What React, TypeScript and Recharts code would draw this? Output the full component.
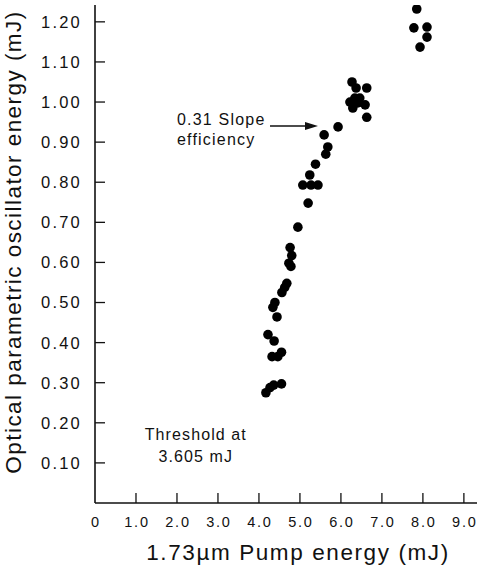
import React from "react";
import { ScatterChart, Scatter, XAxis, YAxis, ReferenceLine, ReferenceDot } from "recharts";

// pump energy (mJ) and OPO output energy (mJ)
const pumpEnergy = [
  4.17, 4.27, 4.36, 4.55, 4.32, 4.46, 4.55, 4.37, 4.22, 4.44,
  4.34, 4.39, 4.56, 4.63, 4.68, 4.78, 4.73, 4.8, 4.76, 4.95,
  5.2, 5.07, 5.27, 5.44, 5.24, 5.38, 5.63, 5.68, 5.59, 5.93,
  6.63, 6.29, 6.22, 6.34, 6.46, 6.41, 6.59, 6.37, 6.63, 6.27,
  7.78, 8.1, 8.1, 7.93, 7.85,
];
const opoEnergy = [
  0.275, 0.288, 0.294, 0.297, 0.365, 0.365, 0.376, 0.404, 0.42, 0.464,
  0.488, 0.5, 0.525, 0.538, 0.548, 0.59, 0.598, 0.617, 0.637, 0.688,
  0.748, 0.793, 0.793, 0.793, 0.818, 0.845, 0.87, 0.888, 0.918, 0.938,
  0.962, 0.985, 1.0, 1.01, 1.01, 0.998, 0.993, 1.035, 1.035, 1.05,
  1.185, 1.187, 1.162, 1.137, 1.232,
];

const xTicks = [0, 1, 2, 3, 4, 5, 6, 7, 8, 9];
const yTicks = [0.1, 0.2, 0.3, 0.4, 0.5, 0.6, 0.7, 0.8, 0.9, 1.0, 1.1, 1.2];

const xTitle = "1.73µm Pump energy (mJ)";
const yTitle = "Optical parametric oscillator energy (mJ)";
const slopeNote = ["0.31 Slope", "efficiency"];
const thresholdNote = ["Threshold at", "3.605 mJ"];

// arrow pointing at the slope line, in data units
const arrowStart = { x: 4.27, y: 0.94 };
const arrowEnd = { x: 5.44, y: 0.94 };
const thresholdAt = { x: 2.46, y: 0.157 };

const FONT = '"Liberation Sans", Arial, Helvetica, sans-serif';
const INK = "#111";

const points = pumpEnergy.map((x, i) => ({ x, y: opoEnergy[i] }));

const XTick = ({ x, y, payload }: any) => (
  <g>
    {payload.value !== 0 && <line x1={x} y1={y} x2={x} y2={y - 10} stroke={INK} strokeWidth={1.3} />}
    <text x={x + 1} y={y + 24} textAnchor="middle" fontFamily={FONT} fontSize={14.5} letterSpacing={1.8} fill={INK}>
      {payload.value === 0 ? "0" : payload.value.toFixed(1)}
    </text>
  </g>
);

const YTick = ({ x, y, payload }: any) => (
  <g>
    <line x1={x} y1={y} x2={x + 10} y2={y} stroke={INK} strokeWidth={1.3} />
    <text x={x - 13} y={y} dy="0.36em" textAnchor="end" fontFamily={FONT} fontSize={16.5} letterSpacing={2.2} fill={INK}>
      {payload.value.toFixed(2)}
    </text>
  </g>
);

const Dot = (p: any) => <circle cx={p.cx} cy={p.cy} r={4.8} fill="#000" />;

const SlopeArrow = (p: any) => (
  <g>
    <line x1={p.x1} y1={p.y1} x2={p.x2 - 10} y2={p.y2} stroke={INK} strokeWidth={1.5} />
    <polygon points={`${p.x2},${p.y2} ${p.x2 - 13},${p.y2 - 4} ${p.x2 - 13},${p.y2 + 4}`} fill={INK} />
    <text x={p.x1 - 93} y={p.y1 - 1} fontFamily={FONT} fontSize={16} letterSpacing={1.2} fill={INK}>
      {slopeNote[0]}
    </text>
    <text x={p.x1 - 93} y={p.y1 + 19} fontFamily={FONT} fontSize={16} letterSpacing={1.2} fill={INK}>
      {slopeNote[1]}
    </text>
  </g>
);

const ThresholdText = (p: any) => (
  <g>
    <text x={p.cx} y={p.cy} textAnchor="middle" fontFamily={FONT} fontSize={16} letterSpacing={1.1} fill={INK}>
      {thresholdNote[0]}
    </text>
    <text x={p.cx} y={p.cy + 22} textAnchor="middle" fontFamily={FONT} fontSize={16} letterSpacing={1.1} fill={INK}>
      {thresholdNote[1]}
    </text>
  </g>
);

export default function App() {
  return (
    <div style={{ position: "absolute", left: 0, top: 0, width: 477, height: 572, background: "#fff" }}>
      <ScatterChart width={477} height={572} margin={{ top: 5, right: 0, bottom: 0, left: 0 }}>
        <XAxis
          type="number"
          dataKey="x"
          domain={[0, 9.32]}
          ticks={xTicks}
          allowDataOverflow
          height={69}
          tickSize={0}
          tickMargin={0}
          tickLine={false}
          tick={<XTick />}
          axisLine={{ stroke: INK, strokeWidth: 1.6 }}
          label={{
            content: () => (
              <text x={298} y={560} textAnchor="middle" fontFamily={FONT} fontSize={22.5} letterSpacing={1.6} fill={INK}>
                {xTitle}
              </text>
            ),
          }}
        />
        <YAxis
          type="number"
          dataKey="y"
          domain={[0, 1.242]}
          ticks={yTicks}
          allowDataOverflow
          width={95}
          tickSize={0}
          tickMargin={0}
          tickLine={false}
          tick={<YTick />}
          axisLine={{ stroke: INK, strokeWidth: 1.6 }}
          label={{
            content: () => (
              <text
                x={21}
                y={242}
                transform="rotate(-90, 21, 242)"
                textAnchor="middle"
                fontFamily={FONT}
                fontSize={22.5}
                letterSpacing={1.45}
                fill={INK}
              >
                {yTitle}
              </text>
            ),
          }}
        />
        <Scatter data={points} shape={<Dot />} isAnimationActive={false} />
        <ReferenceLine segment={[arrowStart, arrowEnd]} shape={<SlopeArrow />} />
        <ReferenceDot x={thresholdAt.x} y={thresholdAt.y} r={1} shape={<ThresholdText />} />
      </ScatterChart>
    </div>
  );
}
